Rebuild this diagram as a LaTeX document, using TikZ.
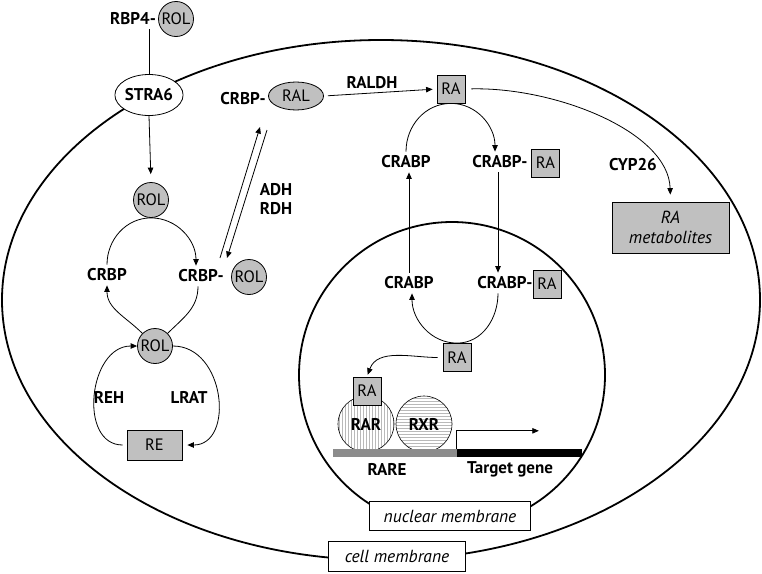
\documentclass[tikz,border=0pt]{standalone}
\usepackage{fontspec}
\setmainfont{PT Sans}
\usetikzlibrary{arrows.meta,patterns,shapes.geometric}
\definecolor{molgray}{RGB}{192,192,192}
\definecolor{baregray}{RGB}{140,140,140}
\begin{document}
\begin{tikzpicture}[x=1pt,y=-1pt,
  lbl/.style={inner sep=4pt, font=\fontsize{17}{20}\selectfont\bfseries},
  mol/.style={draw, fill=molgray, inner sep=0pt, font=\fontsize{16.5}{19}\selectfont, line width=0.8pt},
  rolc/.style={mol, circle, minimum size=35pt},
  rabox/.style={mol, rectangle, minimum size=28pt},
  arr/.style={line width=0.8pt, -{Triangle[length=6.5pt,width=5.5pt]}},
  conn/.style={line width=0.8pt},
  membrane/.style={line width=1.8pt},
  tag/.style={draw, fill=white, line width=0.8pt, font=\fontsize{17.5}{20}\selectfont\itshape, minimum height=29pt, inner sep=0pt},
  recep/.style={circle, draw, line width=0.6pt, minimum size=56pt, inner sep=0pt}]
\useasboundingbox (0,0) rectangle (762,573);

% membranes
\draw[membrane] (381,300) ellipse [x radius=379pt, y radius=260pt];
\draw[membrane] (452,375) circle [radius=153pt];

% top / entry
\node[lbl] (rbp4) at (133,19) {RBP4-};
\node[rolc] (rol0) at (176,19) {ROL};
\node[draw, ellipse, fill=white, line width=0.8pt, minimum width=67pt, minimum height=41pt, inner sep=0pt,
      font=\fontsize{17}{20}\selectfont\bfseries] (stra6) at (149,95) {STRA6};
\draw[conn] (rbp4.south -| stra6.north) -- (stra6.north);

% retinol cycle
\node[rolc] (rol1) at (151,200) {ROL};
\node[lbl] (crbpL) at (107,275) {CRBP};
\node[lbl] (crbpR) at (201,276) {CRBP-};
\node[rolc] (rolR) at (249,277) {ROL};
\node[rolc] (rol2) at (155,346) {ROL};
\node[lbl] (reh) at (109,397) {REH};
\node[lbl] (lrat) at (189,397) {LRAT};
\node[mol, rectangle, minimum width=55pt, minimum height=30pt] (re) at (154.5,445) {RE};

\draw[arr, shorten >=8pt] (stra6.south) -- (rol1.north);
\draw[arr] (crbpL.north) to[out=90,in=180] (rol1.south) to[out=0,in=90] ([xshift=-5pt]crbpR.north);
\draw[conn] ([xshift=-3pt]crbpR.south) to[out=-90,in=45] (rol2.45);
\draw[arr] (rol2.135) to[out=135,in=-90] (crbpL.south);
\draw[arr, shorten <=4pt] (re.west) to[out=180,in=180,looseness=1.25] (rol2.west);
\draw[arr, shorten >=5pt] (rol2.east) to[out=0,in=0,looseness=1.35] (re.east);

% ADH / RDH
\node[lbl] (crbp2) at (243,99) {CRBP-};
\node[mol, ellipse, minimum width=55pt, minimum height=28pt] (ral) at (296,96) {RAL};
\node[lbl] (adh) at (276,190) {ADH};
\node[lbl] (rdh) at (276,209) {RDH};
\coordinate (ox1) at (220,258);
\coordinate (ox2) at (260,127);
\coordinate (rd1) at (267,130);
\coordinate (rd2) at (227,258);
\draw[arr] (ox1) -- (ox2);
\draw[arr] (rd1) -- (rd2);

% RALDH
\node[rabox] (ra1) at (451,89) {RA};
\node[lbl] (raldh) at (372,83) {RALDH};
\draw[arr, shorten <=4pt, shorten >=4pt] (ral.east) -- (ra1.west);

% CRABP cytoplasm
\node[lbl] (crabpL) at (406,162) {CRABP};
\node[lbl] (crabpR) at (500,162) {CRABP-};
\node[rabox] (raR) at (545.5,163) {RA};
\draw[arr] (crabpL.north) to[out=90,in=180] (ra1.south) to[out=0,in=90] ([xshift=-5pt]crabpR.north);

% CYP26
\node[lbl] (cyp) at (633,165) {CYP26};
\node[mol, rectangle, minimum width=117pt, minimum height=51pt, align=center,
      font=\fontsize{17.5}{20}\selectfont\itshape] (metab) at (670.5,227.5) {RA\\metabolites};
\draw[arr, shorten <=6pt, shorten >=7pt] (ra1.east) .. controls +(90,-2) and +(-2,-70) .. (metab.north);

% nucleus
\node[lbl] (crabpL2) at (409,283) {CRABP};
\node[lbl] (crabpR2) at (505,283) {CRABP-};
\node[rabox] (raR2) at (547,284) {RA};
\draw[arr] (crabpL2.north) -- (crabpL2.north |- crabpL.south);
\draw[arr] ([xshift=-2pt]crabpR.south) -- ([xshift=-2pt]crabpR.south |- crabpR2.north);

\node[rabox] (ra2) at (457,357.5) {RA};
\draw[arr] ([xshift=-7pt]crabpR2.south) to[out=-90,in=0] (ra2.north) to[out=180,in=-90] ([xshift=3pt]crabpL2.south);

\node[recep, pattern=vertical lines, pattern color=gray!55] (rar) at (366,424) {};
\node[recep, pattern=horizontal lines, pattern color=gray!55] (rxr) at (424,424) {};
\node[font=\fontsize{17}{20}\selectfont\bfseries] (rartxt) at (rar) {RAR};
\node[font=\fontsize{17}{20}\selectfont\bfseries] (rxrtxt) at (rxr) {RXR};
\node[rabox] (ra3) at (367,391) {RA};
\draw[arr, shorten <=5pt, shorten >=2pt] (ra2.west) to[out=180,in=70] (ra3.north);

\node[fill=baregray, minimum width=124pt, minimum height=8pt, inner sep=0pt] (rarebar) at (395,453) {};
\node[fill=black, minimum width=125pt, minimum height=8pt, inner sep=0pt] (genebar) at (519.5,453) {};
\draw[arr] (genebar.north west) |- ++(82,-18);
\node[lbl] (rare) at (387,469) {RARE};
\node[lbl] (target) at (510,469) {Target gene};

% membrane tags
\node[tag, minimum width=161pt] (nucm) at (450,516) {nuclear membrane};
\node[tag, minimum width=137pt, minimum height=30pt] (cellm) at (397,556) {cell membrane};
\end{tikzpicture}
\end{document}
